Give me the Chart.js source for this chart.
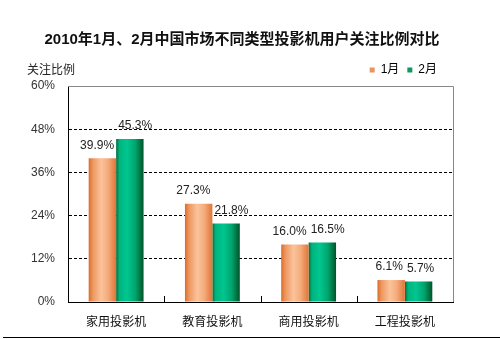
<!DOCTYPE html>
<html>
<head>
<meta charset="utf-8">
<script src="https://cdn.jsdelivr.net/npm/chart.js@4.4.0/dist/chart.umd.min.js"></script>
<style>
  html, body { margin: 0; padding: 0; background: #fff; }
  #wrap { width: 500px; height: 339px; position: relative; }
</style>
</head>
<body>
<div id="wrap"><canvas id="chart"></canvas></div>
<script>
const categories = ['家用投影机', '教育投影机', '商用投影机', '工程投影机'];
const janValues = [39.9, 27.3, 16.0, 6.1];
const febValues = [45.3, 21.8, 16.5, 5.7];
const seriesNames = ['1月', '2月'];
const yTicks = [0, 12, 24, 36, 48, 60];

const CJK = '"Liberation Sans", "Noto Sans CJK SC", sans-serif';
const groupPct = 0.57;

// horizontal gradient per bar, positions taken from the x scale
function barFill(stops, slot) {
    return (ctx) => {
        const chart = ctx.chart;
        const xs = chart.scales.x;
        if (!xs || ctx.dataIndex === undefined || !chart.chartArea) return stops[1][1];
        const c = xs.getPixelForValue(ctx.dataIndex);
        const w = (xs.width / categories.length) * groupPct / 2;
        const x0 = slot === 0 ? c - w : c;
        const g = chart.ctx.createLinearGradient(x0, 0, x0 + w, 0);
        stops.forEach(s => g.addColorStop(s[0], s[1]));
        return g;
    };
}

const orangeStops = [[0, '#DC6C2C'], [0.15, '#EE975E'], [0.45, '#FAC39C'], [0.7, '#F5AC7C'], [1, '#E07538']];
const greenStops = [[0, '#006E3E'], [0.12, '#00B47E'], [0.4, '#00C690'], [0.7, '#00A56E'], [1, '#005428']];

const extras = {
    id: 'extras',
    beforeDraw(chart) {
        // pull the legend a little in from the plot's right edge
        chart.legend.right = chart.chartArea.right - 8;
    },
    afterDatasetsDraw(chart) {
        const { ctx, chartArea: a, scales: { x } } = chart;
        ctx.save();
        // frame top + right
        ctx.strokeStyle = '#888';
        ctx.lineWidth = 1;
        ctx.beginPath();
        ctx.moveTo(a.left, a.top + 0.5);
        ctx.lineTo(a.right + 0.5, a.top + 0.5);
        ctx.lineTo(a.right + 0.5, a.bottom);
        ctx.stroke();
        // small inner ticks between categories
        ctx.strokeStyle = '#000';
        const half = x.width / categories.length / 2;
        for (let i = 0; i < categories.length - 1; i++) {
            const px = Math.round(x.getPixelForValue(i) + half) + 0.5;
            ctx.beginPath();
            ctx.moveTo(px, a.bottom);
            ctx.lineTo(px, a.bottom - 6);
            ctx.stroke();
        }
        // value labels, pushed apart when they would collide
        ctx.fillStyle = '#222';
        ctx.font = '12px ' + CJK;
        ctx.textAlign = 'center';
        ctx.textBaseline = 'middle';
        const m0 = chart.getDatasetMeta(0).data;
        const m1 = chart.getDatasetMeta(1).data;
        const sets = chart.data.datasets;
        categories.forEach((c, i) => {
            const t0 = sets[0].data[i].toFixed(1) + '%';
            const t1 = sets[1].data[i].toFixed(1) + '%';
            let x0 = m0[i].x, x1 = m1[i].x;
            const need = (ctx.measureText(t0).width + ctx.measureText(t1).width) / 2 + 4 - (x1 - x0);
            if (need > 0) { x0 -= need / 2; x1 += need / 2; }
            ctx.fillText(t0, x0, m0[i].y - 13);
            ctx.fillText(t1, x1, m1[i].y - 13);
        });
        // axis title
        ctx.textAlign = 'left';
        ctx.fillText('关注比例', a.left - 41, a.top - 15);
        // bottom rule of the picture
        ctx.beginPath();
        ctx.moveTo(3, chart.height - 1.5);
        ctx.lineTo(chart.width, chart.height - 1.5);
        ctx.stroke();
        ctx.restore();
    }
};

new Chart(document.getElementById('chart'), {
    type: 'bar',
    data: {
        labels: categories,
        datasets: [
            { label: seriesNames[0], data: janValues, backgroundColor: barFill(orangeStops, 0) },
            { label: seriesNames[1], data: febValues, backgroundColor: barFill(greenStops, 1) },
        ],
    },
    options: {
        responsive: true,
        maintainAspectRatio: false,
        animation: false,
        categoryPercentage: groupPct,
        barPercentage: 1,
        layout: { padding: { left: 31, right: 47, top: 0, bottom: 0 } },
        plugins: {
            title: {
                display: true,
                text: '2010年1月、2月中国市场不同类型投影机用户关注比例对比',
                color: '#111',
                font: { family: CJK, size: 15, weight: 'bold' },
                padding: { top: 31, bottom: 7 },
            },
            legend: {
                position: 'top',
                align: 'end',
                labels: {
                    boxWidth: 5,
                    boxHeight: 5,
                    padding: 8,
                    color: '#222',
                    font: { family: CJK, size: 12 },
                    generateLabels: () => [
                        { text: seriesNames[0], fillStyle: '#E9945E', strokeStyle: '#E9945E', lineWidth: 0, datasetIndex: 0 },
                        { text: seriesNames[1], fillStyle: '#12985F', strokeStyle: '#12985F', lineWidth: 0, datasetIndex: 1 },
                    ],
                },
            },
            tooltip: { enabled: false },
        },
        scales: {
            x: {
                afterFit: (s) => { s.height = 37; },
                grid: { display: false, drawTicks: false },
                border: { color: '#000', width: 1 },
                ticks: { color: '#111', padding: 13, font: { family: CJK, size: 12 } },
            },
            y: {
                min: 0,
                max: 60,
                afterFit: (s) => { s.width = 37; },
                afterBuildTicks: (scale) => { scale.ticks = yTicks.map(v => ({ value: v })); },
                grid: {
                    drawTicks: false,
                    color: (c) => (c.tick && (c.tick.value === 0 || c.tick.value === 60)) ? 'rgba(0,0,0,0)' : '#000',
                },
                border: { color: '#000', width: 1, dash: [3, 2] },
                ticks: {
                    color: '#333',
                    padding: 13,
                    font: { family: CJK, size: 12 },
                    callback: (v) => v + '%',
                },
            },
        },
    },
    plugins: [extras],
});
</script>
</body>
</html>
